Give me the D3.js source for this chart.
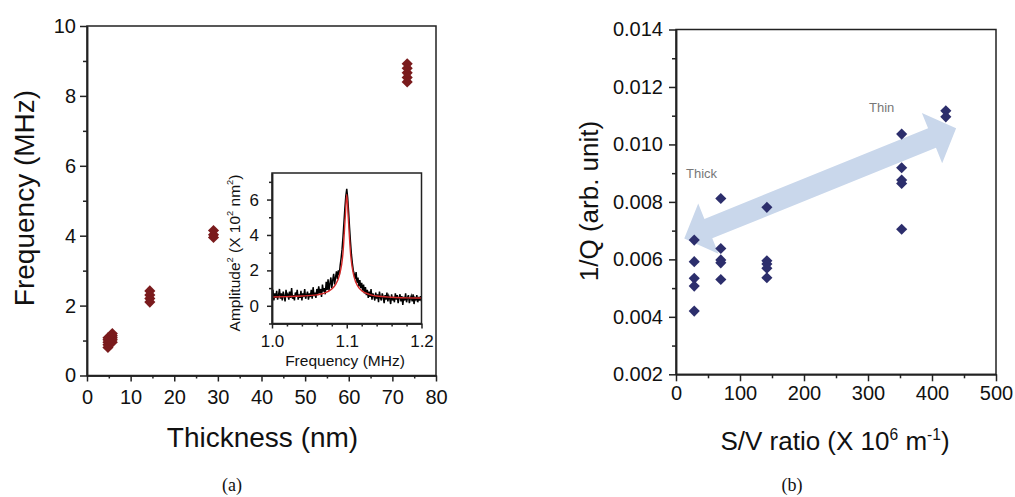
<!DOCTYPE html>
<html>
<head>
<meta charset="utf-8">
<script src="https://cdn.jsdelivr.net/npm/d3@7"></script>
<style>
  body { margin: 0; background: #fff; }
  svg text { font-family: "Liberation Sans", Arial, sans-serif; fill: #111; }
  .axis path, .axis line { stroke: #222; stroke-width: 1.5; }
  .frame { fill: none; stroke: #222; stroke-width: 1.5; }
  .caption { font-family: "Liberation Serif", "Times New Roman", serif; }
</style>
</head>
<body>
<div id="wrapper"></div>
<script>
// ---- data (a): resonance frequency vs thickness
const thicknessGroups = [4.8, 5.8, 14.4, 29.0, 73.4];
const frequencyGroups = [
  [0.8, 0.88, 0.95, 1.02, 1.08],
  [0.95, 1.02, 1.08, 1.14, 1.2],
  [2.1, 2.2, 2.3, 2.42],
  [3.95, 4.03, 4.15],
  [8.4, 8.53, 8.66, 8.79, 8.92]
];
const thicknessTicks = [0, 10, 20, 30, 40, 50, 60, 70, 80];
const frequencyTicks = [0, 2, 4, 6, 8, 10];

// ---- inset: measured spectrum (sampled every 1.25 kHz from 1.0 MHz) and fit
const spectrumStart = 1.0;
const spectrumStep = 0.00125;
const spectrumAmp = [
  0.6,0.9,0.3,0.7,0.45,0.85,0.35,0.6,0.95,0.4,
  0.7,0.3,0.8,0.55,0.25,0.9,0.5,0.65,0.35,0.8,
  0.45,1.0,0.4,0.6,0.3,0.75,0.55,0.9,0.35,0.65,
  0.45,0.85,0.3,0.7,0.5,0.95,0.4,0.6,0.8,0.35,
  0.7,0.5,0.9,0.4,1.05,0.55,0.75,0.45,0.95,
  0.6,1.1,0.7,0.95,0.5,1.2,0.8,1.0,0.65,1.35,0.9,1.5,0.85,1.25,1.6,1.0,
  1.45,1.8,1.2,1.6,1.95,1.5,2.0,1.75,
  2.3,2.7,3.2,3.9,4.7,5.5,6.2,6.6,
  6.1,5.3,4.4,3.6,2.9,2.4,2.0,1.8,
  1.5,1.9,1.3,1.6,1.1,1.45,1.0,1.3,0.85,1.2,0.7,1.05,
  0.6,0.9,0.45,0.8,0.5,0.95,0.35,0.7,0.55,0.3,
  0.75,0.4,0.65,0.2,0.8,0.45,0.3,0.7,0.5,0.15,
  0.6,0.35,0.75,0.25,0.55,0.4,0.1,0.65,0.3,0.5,
  0.2,0.7,0.35,0.6,0.15,0.45,0.65,0.25,0.55,0.05,
  0.5,0.3,0.7,0.2,0.45,0.6,0.15,0.4,0.55,0.25,
  0.65,0.1,0.45,0.35,0.6,0.2,0.5,0.3,0.55,0.25
];
const fitFreq = [1.0, 1.02, 1.04, 1.06, 1.07, 1.08, 1.085, 1.09, 1.095, 1.098, 1.1,
                 1.102, 1.105, 1.11, 1.115, 1.12, 1.13, 1.14, 1.16, 1.18, 1.2];
const fitAmp = [0.5, 0.52, 0.55, 0.62, 0.72, 0.95, 1.2, 1.7, 3.0, 5.0, 6.3,
                5.0, 3.0, 1.6, 1.1, 0.85, 0.65, 0.55, 0.48, 0.45, 0.44];
const insetFreqTicks = [1.0, 1.1, 1.2];
const insetFreqMinor = [1.02, 1.04, 1.06, 1.08, 1.12, 1.14, 1.16, 1.18];
const insetAmpTicks = [0, 2, 4, 6];
const insetAmpMinor = [-1, 1, 3, 5, 7];

// ---- data (b): dissipation vs surface/volume ratio
const svRatioGroups = [28.5, 70, 142, 352.6, 421.6];
const invQGroups = [
  [0.00667, 0.00592, 0.00534, 0.00507, 0.0042],
  [0.00812, 0.00638, 0.00598, 0.00588, 0.0053],
  [0.00781, 0.00595, 0.00584, 0.00569, 0.00536],
  [0.01036, 0.00919, 0.00876, 0.00864, 0.00705],
  [0.01117, 0.01096]
];
const svTicks = [0, 100, 200, 300, 400, 500];
const svMinor = [50, 150, 250, 350, 450];
const invQTicks = [0.002, 0.004, 0.006, 0.008, 0.010, 0.012, 0.014];
const invQMinor = [0.003, 0.005, 0.007, 0.009, 0.011, 0.013];

function drawCharts() {
  const svg = d3.select("#wrapper").append("svg")
    .attr("width", 1015)
    .attr("height", 497);
  svg.append("rect").attr("width", 1015).attr("height", 497).attr("fill", "#fff");

  const diamond = d3.symbol(d3.symbolSquare, 62)();

  function axis(g, gen, size) {
    g.attr("class", "axis").call(gen);
    g.selectAll("text").style("font-size", size + "px");
    return g;
  }

  // text with superscript pieces; the shift is undone on the next normal piece
  function addLabel(x, y, parts, size, rotate) {
    const t = svg.append("text")
      .attr("text-anchor", "middle")
      .style("font-size", size + "px")
      .attr("transform", `translate(${x},${y})` + (rotate ? " rotate(-90)" : ""));
    let raised = false;
    parts.forEach(p => {
      const span = t.append("tspan").text(p.t);
      if (p.sup) {
        span.attr("dy", -size * 0.4).style("font-size", (size * 0.6) + "px");
        raised = true;
      } else if (raised) {
        span.attr("dy", size * 0.4);
        raised = false;
      }
    });
    return t;
  }

  // ===== Panel (a)
  const xA = d3.scaleLinear().domain([0, 80]).range([87, 436]);
  const yA = d3.scaleLinear().domain([0, 10]).range([375.5, 26]);

  svg.append("rect").attr("class", "frame")
    .attr("x", 87).attr("y", 26).attr("width", 349).attr("height", 349.5);

  axis(svg.append("g").attr("transform", "translate(0,375.5)"),
    d3.axisBottom(xA).tickValues(thicknessTicks).tickSize(6).tickPadding(8).tickSizeOuter(0), 20);
  axis(svg.append("g").attr("transform", "translate(0,375.5)"),
    d3.axisBottom(xA).tickValues(d3.range(5, 80, 10)).tickSize(3).tickFormat("").tickSizeOuter(0), 20);
  axis(svg.append("g").attr("transform", "translate(87,0)"),
    d3.axisLeft(yA).tickValues(frequencyTicks).tickSize(7).tickPadding(4).tickSizeOuter(0), 20);
  axis(svg.append("g").attr("transform", "translate(87,0)"),
    d3.axisLeft(yA).tickValues(d3.range(1, 10, 2)).tickSize(4).tickFormat("").tickSizeOuter(0), 20);

  thicknessGroups.forEach((t, i) => {
    svg.append("g").selectAll("path")
      .data(frequencyGroups[i])
      .join("path")
      .attr("d", diamond)
      .attr("fill", "#7a1b1d")
      .attr("transform", d => `translate(${xA(t)},${yA(d)}) rotate(45)`);
  });

  addLabel(262.5, 446.5, [{ t: "Thickness (nm)" }], 28);
  addLabel(33.5, 198, [{ t: "Frequency (MHz)" }], 28, true);
  svg.append("text").attr("class", "caption").attr("x", 232).attr("y", 491)
    .attr("text-anchor", "middle").style("font-size", "18px").text("(a)");

  // ----- inset
  const xI = d3.scaleLinear().domain([1.0, 1.2]).range([272, 421.5]);
  const yI = d3.scaleLinear().domain([-1, 7.5]).range([323.5, 173]);

  svg.append("clipPath").attr("id", "insetClip")
    .append("rect").attr("x", 272).attr("y", 173).attr("width", 149.5).attr("height", 150.5);

  const spectrum = spectrumAmp.map((a, i) => ({ f: spectrumStart + i * spectrumStep, a }));
  svg.append("path")
    .attr("clip-path", "url(#insetClip)")
    .attr("d", d3.line().x(d => xI(d.f)).y(d => yI(d.a))(spectrum))
    .attr("fill", "none")
    .attr("stroke", "#000")
    .attr("stroke-width", 1.5);

  const fit = fitFreq.map((f, i) => ({ f, a: fitAmp[i] }));
  svg.append("path")
    .attr("clip-path", "url(#insetClip)")
    .attr("d", d3.line().x(d => xI(d.f)).y(d => yI(d.a)).curve(d3.curveMonotoneX)(fit))
    .attr("fill", "none")
    .attr("stroke", "#d42a2a")
    .attr("stroke-width", 1.4);

  svg.append("rect").attr("class", "frame")
    .attr("x", 272).attr("y", 173).attr("width", 149.5).attr("height", 150.5);

  axis(svg.append("g").attr("transform", "translate(0,323.5)"),
    d3.axisBottom(xI).tickValues(insetFreqTicks).tickSize(5).tickPadding(6)
      .tickFormat(d3.format(".1f")).tickSizeOuter(0), 17);
  axis(svg.append("g").attr("transform", "translate(0,323.5)"),
    d3.axisBottom(xI).tickValues(insetFreqMinor).tickSize(3).tickFormat("").tickSizeOuter(0), 17);
  axis(svg.append("g").attr("transform", "translate(272,0)"),
    d3.axisLeft(yI).tickValues(insetAmpTicks).tickSize(5).tickPadding(8).tickSizeOuter(0), 17);
  axis(svg.append("g").attr("transform", "translate(272,0)"),
    d3.axisLeft(yI).tickValues(insetAmpMinor).tickSize(3).tickFormat("").tickSizeOuter(0), 17);

  addLabel(345, 366, [{ t: "Frequency (MHz)" }], 15.5);
  addLabel(239.5, 253, [{ t: "Amplitude" }, { t: "2", sup: true }, { t: " (X 10" }, { t: "2", sup: true },
    { t: " nm" }, { t: "2", sup: true }, { t: ")" }], 15.5, true);

  // ===== Panel (b)
  const xB = d3.scaleLinear().domain([0, 500]).range([676, 996]);
  const yB = d3.scaleLinear().domain([0.002, 0.014]).range([374.3, 29.5]);

  svg.append("rect").attr("class", "frame")
    .attr("x", 676).attr("y", 29.5).attr("width", 320).attr("height", 344.8);

  axis(svg.append("g").attr("transform", "translate(0,374.3)"),
    d3.axisBottom(xB).tickValues(svTicks).tickSize(7).tickPadding(5).tickSizeOuter(0), 20);
  axis(svg.append("g").attr("transform", "translate(0,374.3)"),
    d3.axisBottom(xB).tickValues(svMinor).tickSize(4).tickFormat("").tickSizeOuter(0), 20);
  axis(svg.append("g").attr("transform", "translate(676,0)"),
    d3.axisLeft(yB).tickValues(invQTicks).tickSize(7).tickPadding(6)
      .tickFormat(d3.format(".3f")).tickSizeOuter(0), 20);
  axis(svg.append("g").attr("transform", "translate(676,0)"),
    d3.axisLeft(yB).tickValues(invQMinor).tickSize(4).tickFormat("").tickSizeOuter(0), 20);

  // double arrow thick <-> thin
  const arrowEnds = [[12.9, 0.00673], [437.7, 0.01056]];
  const p0 = [xB(arrowEnds[0][0]), yB(arrowEnds[0][1])];
  const p1 = [xB(arrowEnds[1][0]), yB(arrowEnds[1][1])];
  const len = Math.hypot(p1[0] - p0[0], p1[1] - p0[1]);
  const u = [(p1[0] - p0[0]) / len, (p1[1] - p0[1]) / len];
  const n = [-u[1], u[0]];
  const headLen = 26, headW = 27, shaftW = 10.5;
  const pt = (p, a, b) => [p[0] + u[0] * a + n[0] * b, p[1] + u[1] * a + n[1] * b];
  const arrowPts = [
    p0, pt(p0, headLen, headW), pt(p0, headLen, shaftW),
    pt(p1, -headLen, shaftW), pt(p1, -headLen, headW), p1,
    pt(p1, -headLen, -headW), pt(p1, -headLen, -shaftW),
    pt(p0, headLen, -shaftW), pt(p0, headLen, -headW)
  ];
  svg.append("polygon")
    .attr("points", arrowPts.map(p => p.join(",")).join(" "))
    .attr("fill", "#c9d7eb");

  svg.append("text").attr("x", xB(15.6)).attr("y", yB(0.00883))
    .style("font-size", "13px").style("fill", "#777").text("Thick");
  svg.append("text").attr("x", xB(301.6)).attr("y", yB(0.01114))
    .style("font-size", "13px").style("fill", "#777").text("Thin");

  svRatioGroups.forEach((s, i) => {
    svg.append("g").selectAll("path")
      .data(invQGroups[i])
      .join("path")
      .attr("d", diamond)
      .attr("fill", "#2c2e6c")
      .attr("transform", d => `translate(${xB(s)},${yB(d)}) rotate(45)`);
  });

  addLabel(835, 450, [{ t: "S/V ratio (X 10" }, { t: "6", sup: true }, { t: " m" }, { t: "-1", sup: true }, { t: ")" }], 26);
  addLabel(598, 201, [{ t: "1/Q (arb. unit)" }], 26, true);
  svg.append("text").attr("class", "caption").attr("x", 792).attr("y", 491)
    .attr("text-anchor", "middle").style("font-size", "18px").text("(b)");
}
drawCharts();
</script>
</body>
</html>
